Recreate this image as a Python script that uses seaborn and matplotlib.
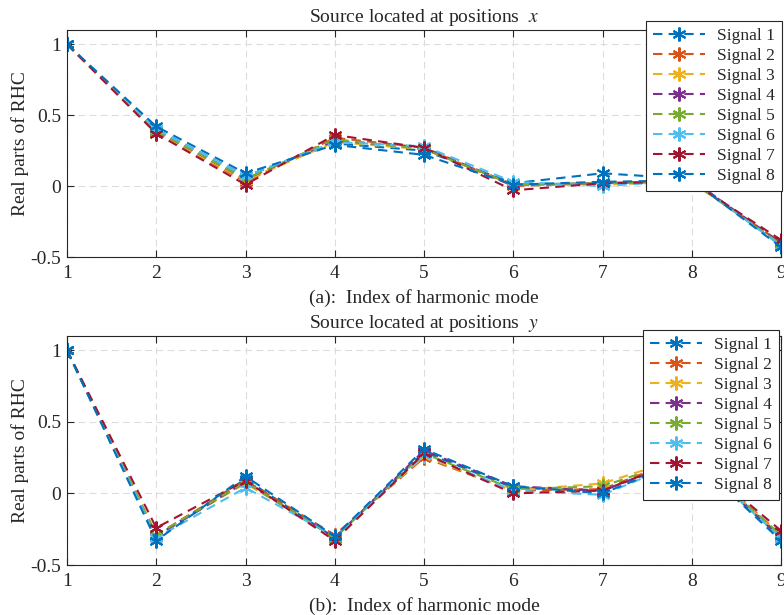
import numpy as np
import pandas as pd
import matplotlib
matplotlib.use("Agg")
import matplotlib.pyplot as plt
import seaborn as sns

modes = [1, 2, 3, 4, 5, 6, 7, 8, 9]
signals = ["Signal 1", "Signal 2", "Signal 3", "Signal 4",
           "Signal 5", "Signal 6", "Signal 7", "Signal 8"]
colors = ["#0072BD", "#D95319", "#EDB120", "#7E2F8E",
          "#77AC30", "#4DBEEE", "#A2142F", "#0072BD"]

# panel (a): source located at positions x
a_s1 = [1, 0.40, 0.07, 0.30, 0.25, 0.02, 0.09, 0.05, -0.42]
a_s2 = [1, 0.38, 0.03, 0.34, 0.27, 0.00, 0.02, 0.03, -0.40]
a_s3 = [1, 0.38, 0.04, 0.31, 0.26, 0.01, 0.01, 0.03, -0.41]
a_s4 = [1, 0.39, 0.05, 0.32, 0.27, 0.01, 0.02, 0.04, -0.40]
a_s5 = [1, 0.39, 0.05, 0.33, 0.26, 0.01, 0.02, 0.03, -0.41]
a_s6 = [1, 0.40, 0.07, 0.31, 0.28, 0.03, 0.00, 0.04, -0.42]
a_s7 = [1, 0.37, 0.01, 0.36, 0.27, -0.03, 0.02, 0.03, -0.38]
a_s8 = [1, 0.42, 0.09, 0.29, 0.22, 0.01, 0.03, 0.04, -0.43]

# panel (b): source located at positions y
b_s1 = [1, -0.30, 0.10, -0.31, 0.29, 0.04, 0.02, 0.26, -0.30]
b_s2 = [1, -0.29, 0.09, -0.29, 0.25, 0.02, 0.03, 0.27, -0.29]
b_s3 = [1, -0.29, 0.07, -0.30, 0.26, 0.02, 0.07, 0.27, -0.30]
b_s4 = [1, -0.30, 0.08, -0.31, 0.30, 0.05, 0.02, 0.25, -0.31]
b_s5 = [1, -0.29, 0.08, -0.31, 0.28, 0.03, 0.05, 0.26, -0.29]
b_s6 = [1, -0.31, 0.04, -0.30, 0.27, 0.02, -0.01, 0.25, -0.31]
b_s7 = [1, -0.24, 0.09, -0.33, 0.28, 0.00, 0.02, 0.26, -0.26]
b_s8 = [1, -0.33, 0.12, -0.30, 0.31, 0.05, 0.00, 0.25, -0.33]

panel_a = [a_s1, a_s2, a_s3, a_s4, a_s5, a_s6, a_s7, a_s8]
panel_b = [b_s1, b_s2, b_s3, b_s4, b_s5, b_s6, b_s7, b_s8]

yticks = [-0.5, 0, 0.5, 1]
yticklabels = ["-0.5", "0", "0.5", "1"]

sns.set_style("ticks")
plt.rcParams["font.family"] = ["Liberation Serif", "DejaVu Serif"]
plt.rcParams["mathtext.fontset"] = "stix"

fig = plt.figure(figsize=(7.84, 6.15), dpi=100)
W, H = 784, 615
ax1 = fig.add_axes([67 / W, 1 - 257 / H, (781 - 67) / W, (257 - 30) / H])
ax2 = fig.add_axes([67 / W, 1 - 565 / H, (781 - 67) / W, (565 - 336) / H])

panels = [
    (ax1, panel_a, "x", "(a):  Index of harmonic mode", (646, 21)),
    (ax2, panel_b, "y", "(b):  Index of harmonic mode", (643, 330)),
]

for ax, data, var, xlab, legpos in panels:
    rows = []
    for name, vals in zip(signals, data):
        for m, v in zip(modes, vals):
            rows.append({"mode": m, "value": v, "signal": name})
    df = pd.DataFrame(rows)
    for name, col in zip(signals, colors):
        sub = df[df["signal"] == name]
        sns.lineplot(data=sub, x="mode", y="value", ax=ax, color=col,
                     label=name, sort=False, errorbar=None,
                     linestyle=(0, (4.5, 3)), linewidth=1.5,
                     marker=(6, 2, 0), markersize=10,
                     markeredgewidth=1.5, markeredgecolor=col)
    ax.set_xlim(1, 9)
    ax.set_ylim(-0.5, 1.1)
    ax.set_xticks(modes)
    ax.set_xticklabels([str(m) for m in modes], fontsize=14)
    ax.set_yticks(yticks)
    ax.set_yticklabels(yticklabels, fontsize=14)
    ax.tick_params(direction="in", length=5, width=0.8, top=True, right=True,
                   colors="#262626", pad=4)
    ax.tick_params(axis="x", pad=6)
    ax.grid(True, linestyle=(0, (6, 4)), color="#dcdcdc", linewidth=0.8)
    for sp in ax.spines.values():
        sp.set_visible(True)
        sp.set_color("#262626")
        sp.set_linewidth(0.8)
    ax.set_ylabel("Real parts of RHC", fontsize=14, labelpad=1)
    ax.set_xlabel(xlab, fontsize=14, labelpad=5)
    ax.set_title("Source located at positions  $\\mathit{" + var + "}$",
                 fontsize=14, pad=6)
    leg = ax.legend(loc="upper left",
                    bbox_to_anchor=(legpos[0] / W, 1 - legpos[1] / H),
                    bbox_transform=fig.transFigure, borderaxespad=0,
                    fontsize=12.5, frameon=True, fancybox=False,
                    handlelength=3.0, handletextpad=0.7,
                    labelspacing=0.22, borderpad=0.4)
    leg.get_frame().set_edgecolor("#262626")
    leg.get_frame().set_linewidth(0.8)
    leg.get_frame().set_alpha(1)

fig.savefig("out.png", dpi=100)
